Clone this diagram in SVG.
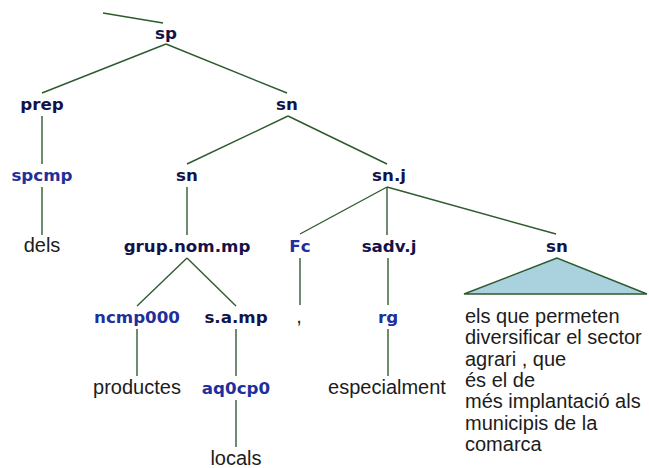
<svg xmlns="http://www.w3.org/2000/svg" width="649" height="468" viewBox="0 0 649 468">
<style>
.nt{font-family:"DejaVu Sans",Verdana,sans-serif;font-weight:bold;font-size:16.7px;fill:#13134a;text-anchor:middle}
.pos{font-family:"DejaVu Sans",Verdana,sans-serif;font-weight:bold;font-size:16.7px;fill:#1f2f9c;text-anchor:middle}
.lf{font-family:"Liberation Sans",Arial,sans-serif;font-size:20px;fill:#1c1c1c;text-anchor:middle}
.blk{font-family:"Liberation Sans",Arial,sans-serif;font-size:20px;fill:#1c1c1c}
.e{stroke:#2f5a2f;stroke-width:1.4;fill:none}
.tri{fill:#a9d2de;stroke:#2f5a2f;stroke-width:1.4}
</style>
<rect width="649" height="468" fill="#ffffff"/>
<g id="connectors">
<line class="e" x1="103" y1="13" x2="163" y2="23"/>
<line class="e" x1="166" y1="44" x2="42" y2="93"/>
<line class="e" x1="166" y1="44" x2="287" y2="93"/>
<line class="e" x1="42" y1="116" x2="42" y2="164"/>
<line class="e" x1="42" y1="187" x2="42" y2="235"/>
<line class="e" x1="288" y1="116" x2="187" y2="164"/>
<line class="e" x1="288" y1="116" x2="387" y2="164"/>
<line class="e" x1="187" y1="187" x2="187" y2="235"/>
<line class="e" x1="387" y1="187" x2="300" y2="234"/>
<line class="e" x1="387" y1="187" x2="387" y2="235"/>
<line class="e" x1="387" y1="187" x2="556" y2="234"/>
<line class="e" x1="187" y1="258" x2="137" y2="306"/>
<line class="e" x1="187" y1="258" x2="236" y2="306"/>
<line class="e" x1="137" y1="329" x2="137" y2="376"/>
<line class="e" x1="236" y1="329" x2="236" y2="376"/>
<line class="e" x1="236" y1="400" x2="236" y2="447"/>
<line class="e" x1="300" y1="258" x2="300" y2="305"/>
<line class="e" x1="388" y1="258" x2="388" y2="305"/>
<line class="e" x1="388" y1="329" x2="388" y2="376"/>
</g>
<g id="n-sp"><text class="nt" x="166" y="39">sp</text></g>
<g id="n-prep"><text class="nt" x="42" y="110">prep</text></g>
<g id="n-sn1"><text class="nt" x="287" y="110">sn</text></g>
<g id="n-spcmp"><text class="pos" x="42" y="181">spcmp</text></g>
<g id="n-sn2"><text class="nt" x="187" y="181">sn</text></g>
<g id="n-snj"><text class="nt" x="389" y="181">sn.j</text></g>
<g id="n-dels"><text class="lf" x="42" y="252">dels</text></g>
<g id="n-grup"><text class="nt" x="187" y="252">grup.nom.mp</text></g>
<g id="n-fc"><text class="pos" x="300" y="252">Fc</text></g>
<g id="n-sadvj"><text class="nt" x="389" y="252">sadv.j</text></g>
<g id="n-sn3"><text class="nt" x="557" y="252">sn</text>
<polygon class="tri" points="557,258 464,294 647,294"/></g>
<g id="n-ncmp"><text class="pos" x="137" y="323">ncmp000</text></g>
<g id="n-samp"><text class="nt" x="236" y="323">s.a.mp</text></g>
<g id="n-comma"><text class="lf" x="299" y="323">,</text></g>
<g id="n-rg"><text class="pos" x="388" y="323">rg</text></g>
<g id="n-block">
<text class="blk" x="465" y="323">els que permeten</text>
<text class="blk" x="465" y="344.3">diversificar el sector</text>
<text class="blk" x="465" y="365.6">agrari , que</text>
<text class="blk" x="465" y="386.9">és el de</text>
<text class="blk" x="465" y="408.2">més implantació als</text>
<text class="blk" x="465" y="429.5">municipis de la</text>
<text class="blk" x="465" y="450.8">comarca</text>
</g>
<g id="n-productes"><text class="lf" x="137" y="394">productes</text></g>
<g id="n-aq0cp0"><text class="pos" x="236" y="394">aq0cp0</text></g>
<g id="n-especialment"><text class="lf" x="387" y="394">especialment</text></g>
<g id="n-locals"><text class="lf" x="236" y="465">locals</text></g>
</svg>
